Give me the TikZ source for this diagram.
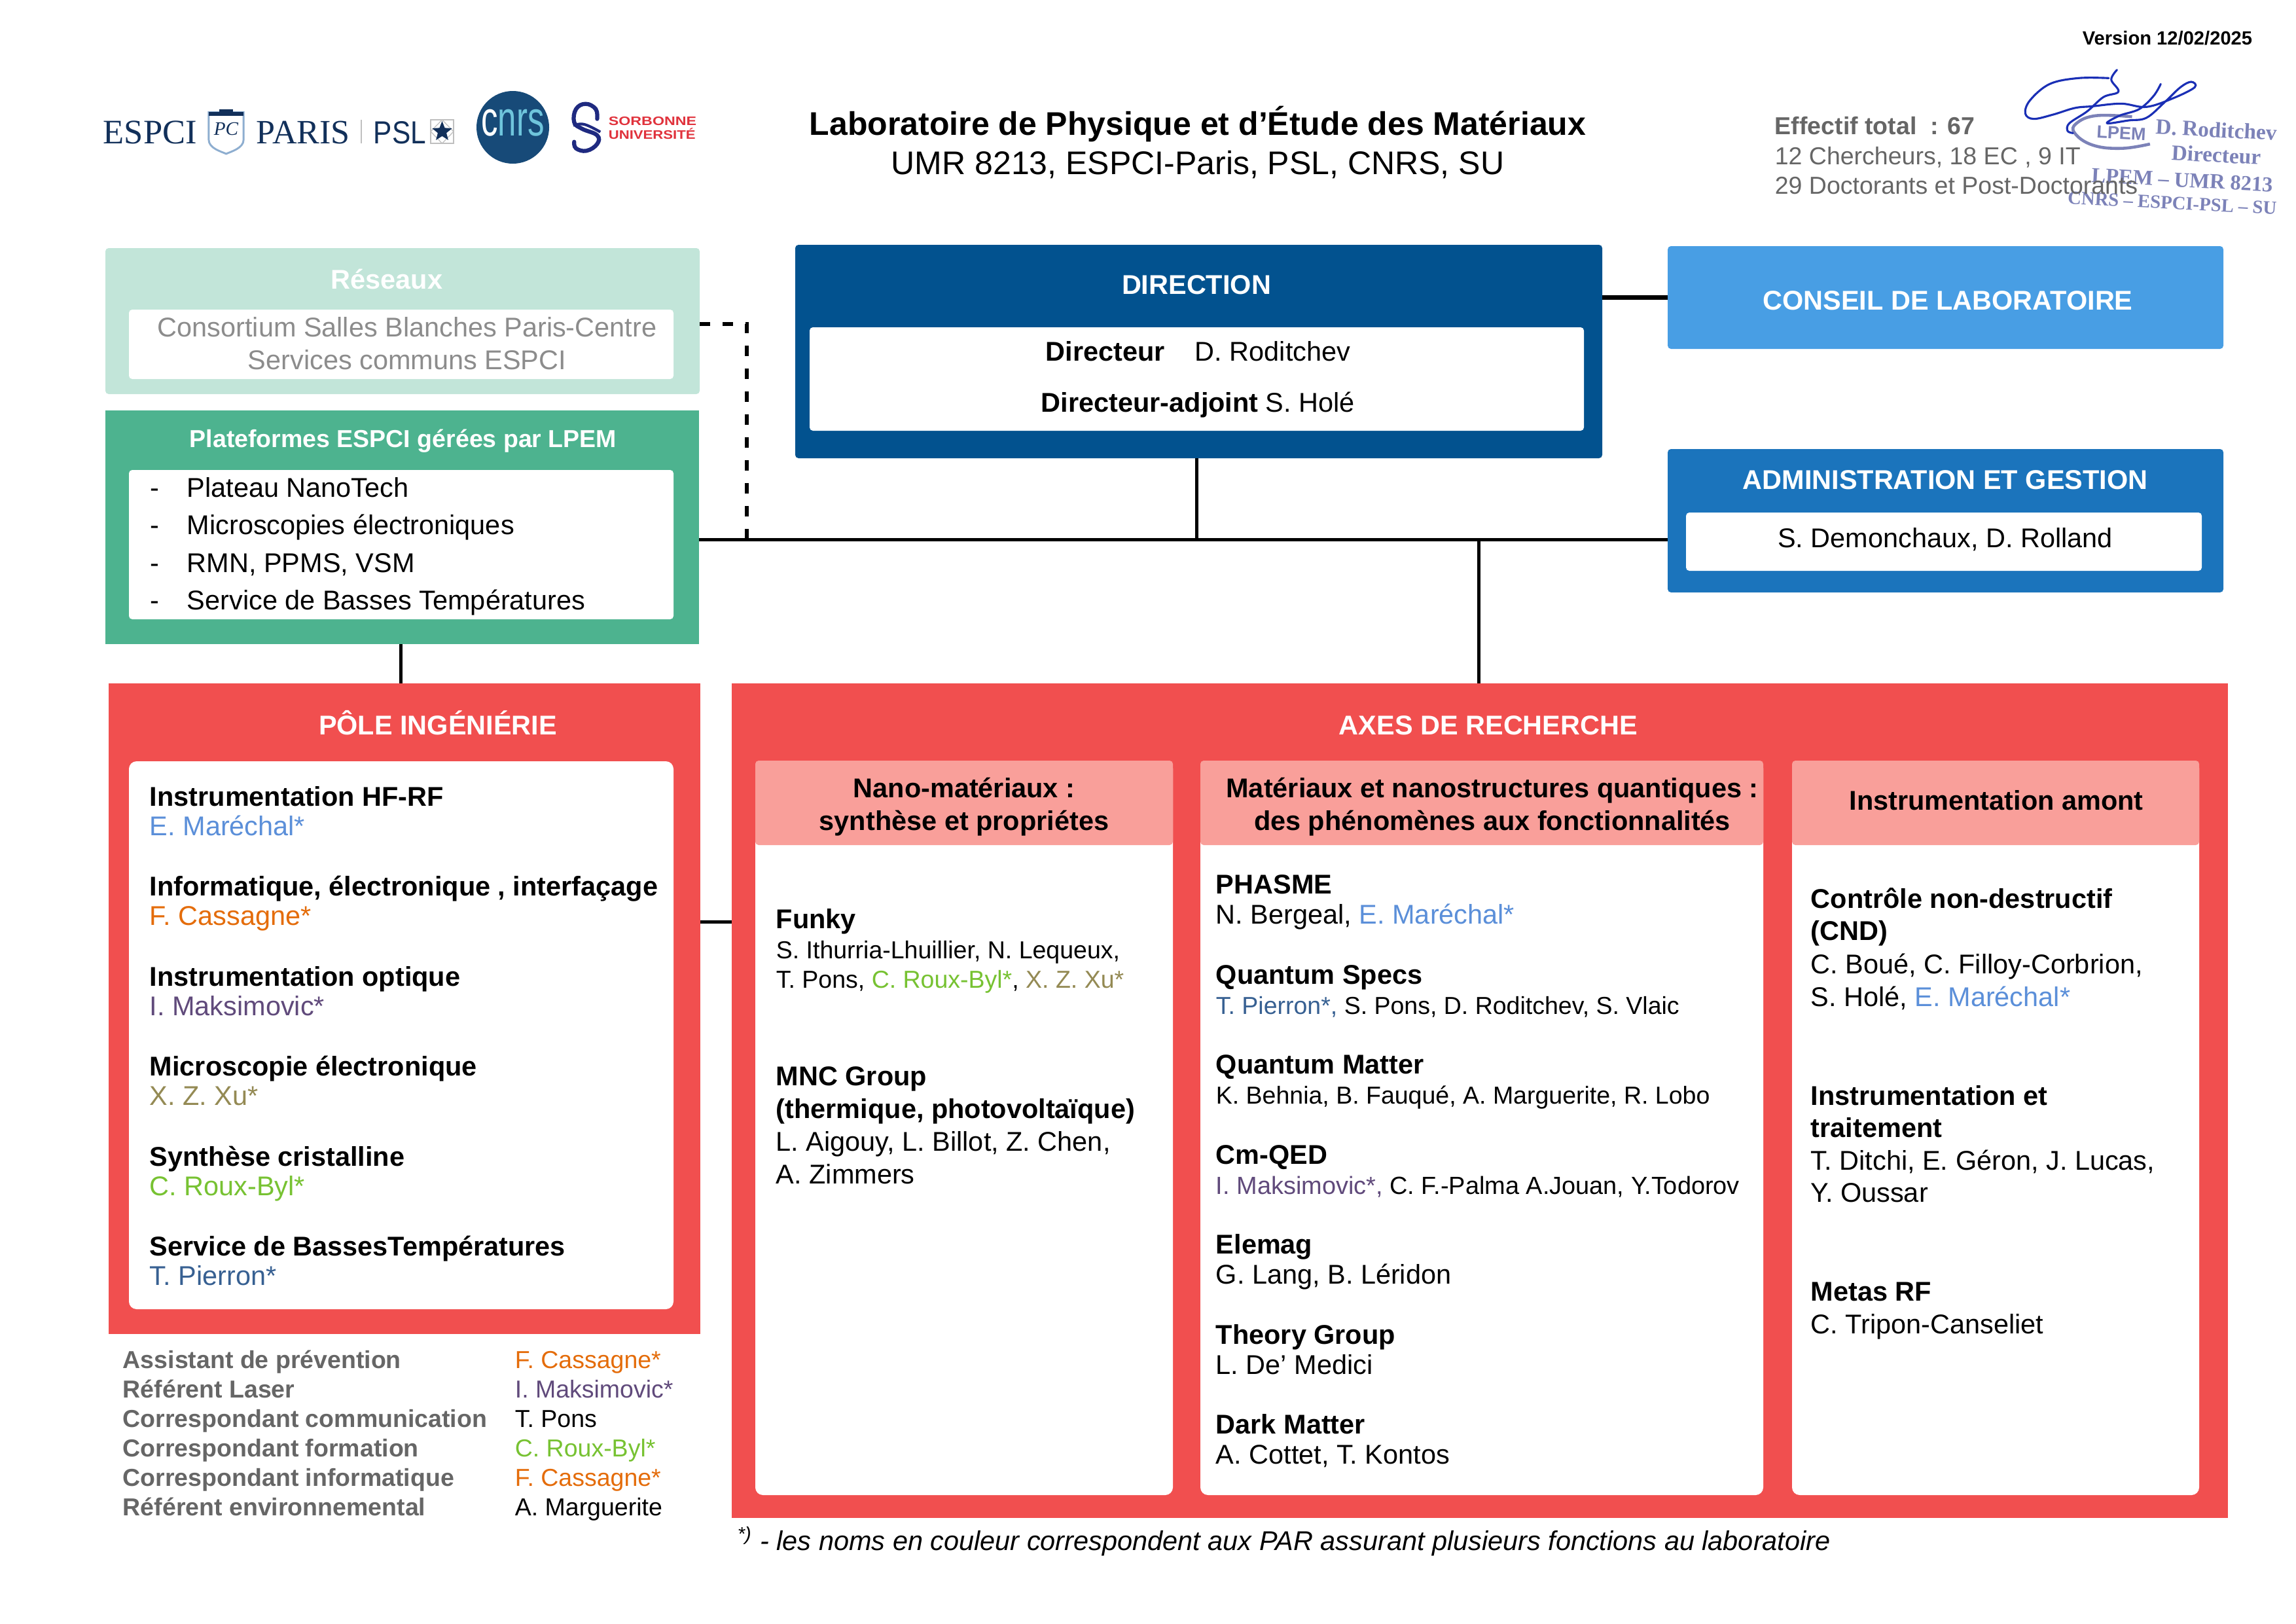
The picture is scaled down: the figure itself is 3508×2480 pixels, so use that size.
\documentclass[tikz,border=0pt]{standalone}
\usepackage{fontspec}
\setmainfont{Liberation Sans}
\newfontfamily\stampfont{Liberation Serif}
\usetikzlibrary{positioning,shapes.geometric}

\def\u{0.24pt}
\definecolor{reseauxbg}{HTML}{C2E5D9}
\definecolor{platbg}{HTML}{4DB38F}
\definecolor{dirbg}{HTML}{02528F}
\definecolor{conseilbg}{HTML}{489EE4}
\definecolor{adminbg}{HTML}{1B74BC}
\definecolor{redbg}{HTML}{F14F4F}
\definecolor{pinkbg}{HTML}{F99F9A}
\definecolor{greytext}{HTML}{666666}
\definecolor{softgrey}{HTML}{8C8C8C}
\definecolor{marechal}{HTML}{5B8FD9}
\definecolor{cassagne}{HTML}{E46C0A}
\definecolor{maksimovic}{HTML}{604A7B}
\definecolor{xucol}{HTML}{948A54}
\definecolor{rouxbyl}{HTML}{77C232}
\definecolor{pierron}{HTML}{376092}
\definecolor{navylogo}{HTML}{12305A}
\definecolor{cnrsbg}{HTML}{174A78}
\definecolor{cnrslight}{HTML}{6FC5DC}
\definecolor{sorbonnered}{HTML}{E0323C}
\definecolor{sorbonneblue}{HTML}{1F2A80}
\definecolor{signblue}{HTML}{1A2FB5}
\definecolor{stampblue}{HTML}{7C82B8}
\definecolor{shieldline}{HTML}{8EAED0}

\tikzstyle{boxsize} = [minimum width=#1*\u]
\tikzstyle{box} = [
    rectangle,                 % Shape
    anchor=north west,
    inner sep=0pt,
    outer sep=0pt
]
\tikzstyle{softbox} = [box, rounded corners=1.2pt]
\tikzstyle{whitebox} = [box, fill=white, rounded corners=1.2pt]
\tikzstyle{bodybox} = [box, fill=white, rounded corners=2.8pt]
\tikzstyle{link} = [line width=1.2pt, black]
\tikzstyle{thicklink} = [line width=1.6pt, black]
\tikzstyle{dashlink} = [line width=1.3pt, black, dash pattern=on 3.8pt off 4.6pt]
\tikzstyle{txt} = [anchor=base west, inner sep=0pt, yshift=-0.36pt, font=\fontsize{9.95}{12}\selectfont]
\tikzstyle{smalltxt} = [txt, font=\fontsize{9}{12}\selectfont]
\tikzstyle{headtxt} = [txt, font=\fontsize{9.95}{12}\selectfont\bfseries]
\tikzstyle{smallhead} = [txt, font=\fontsize{9}{12}\selectfont\bfseries]
\tikzstyle{midtxt} = [txt, anchor=base]
\tikzstyle{midhead} = [headtxt, anchor=base]
\tikzstyle{boxtitle} = [headtxt, anchor=base, text=white]
\tikzstyle{sign} = [signblue, line width=0.75pt, line cap=round, line join=round]
\tikzstyle{stamptxt} = [inner sep=0pt, rotate=-3, text=stampblue, font=\stampfont\bfseries\fontsize{8}{10}\selectfont]

\begin{document}
\begin{tikzpicture}[x=\u, y=-\u]
	\useasboundingbox (0,0) rectangle (3508,2480);

	% Logos
	\node[txt, text=navylogo, font=\stampfont\fontsize{12.6}{14}\selectfont] (espci) at (157,218) {ESPCI};
	\node[txt, text=navylogo, font=\stampfont\fontsize{12.5}{14}\selectfont] (paris) at (391,218) {PARIS};
	\node[txt, text=navylogo, font=\fontsize{11.7}{14}\selectfont] (psl) at (570,218) {\scalebox{.87}[1]{PSL}};
	\draw[black!25, line width=0.3pt] (552,183) -- (552,219);
	\begin{scope}[shift={(100,0)}, x=0.16836pt, y=-0.08pt]
		\draw[fill=white, draw=shieldline, line width=0.7pt] (312,515) -- (388,515) -- (388,640) .. controls (388,680) and (360,695) .. (350,705) .. controls (340,695) and (312,680) .. (312,640) -- cycle;
		\fill[navylogo] (312,512) -- (388,512) -- (388,530) -- (312,530) -- cycle;
		\fill[navylogo] (335,512) -- (335,500) -- (365,500) -- (365,512) -- cycle;
		\node[inner sep=0pt, text=navylogo, font=\stampfont\itshape\fontsize{7}{8}\selectfont] (shieldtxt) at (350,590) {PC};
		% Sorbonne S
		\draw[sorbonneblue, line width=1.5pt, line cap=round] plot[smooth, tension=.7] coordinates {(1158,545) (1155,500) (1133,476) (1112,500) (1108,560) (1125,590) (1158,620) (1158,660) (1135,691) (1112,680) (1108,650)};
		\draw[sorbonneblue, line width=1pt] plot[smooth, tension=.7] coordinates {(1106,575) (1130,570) (1165,605)};
	\end{scope}
	\draw[black!25, line width=0.3pt] (658,183) rectangle (693,219);
	\draw[black!25, line width=0.3pt] (675.5,183) -- (693,201) -- (675.5,219) -- (658,201) -- cycle;
	\node[star, star points=5, star point ratio=2.3, fill=navylogo, inner sep=0pt, minimum size=32*\u] (pslstar) at (675.5,201) {};
	\node[ellipse, fill=cnrsbg, inner sep=0pt, minimum width=111*\u, minimum height=111*\u] (cnrslogo) at (783.5,194.5) {};
	\node[anchor=base, inner sep=0pt, font=\fontsize{18}{20}\selectfont] (cnrstxt) at (783.5,207) {\scalebox{.68}[1]{\textcolor{white}{c}\textcolor{cnrslight}{nrs}}};
	\node[txt, text=sorbonnered, font=\fontsize{4.5}{5}\selectfont\bfseries] (sorb) at (929,190) {\scalebox{1.24}[1]{SORBONNE}};
	\node[txt, text=sorbonnered, font=\fontsize{4.5}{5}\selectfont\bfseries] (univ) at (929,211) {\scalebox{1.18}[1]{UNIVERSITÉ}};

	% Signature et tampon
	\begin{scope}[shift={(2650,0)}, x=0.131352pt, y=-0.08pt]
		\draw[stampblue, line width=1.1pt] plot[smooth, tension=.7] coordinates {(1110,535) (1010,530) (955,565) (950,610) (1000,665) (1080,680) (1160,660)};
		\node[stamptxt, font=\fontsize{6.5}{8}\selectfont\bfseries] (stamplpem) at (1080,610) {LPEM};
		\node[stamptxt] (stampname) at (1345,595) {D. Roditchev};
		\node[stamptxt] (stamprole) at (1345,710) {Directeur};
		\node[stamptxt, font=\stampfont\bfseries\fontsize{7.8}{10}\selectfont] (stampumr) at (1250,825) {LPEM – UMR 8213};
		\node[stamptxt, font=\stampfont\bfseries\fontsize{6.9}{10}\selectfont] (stamptut) at (1222,930) {CNRS – ESPCI-PSL – SU};
		\draw[sign] plot[smooth, tension=.6] coordinates {(1045,358) (960,358) (880,385) (825,460) (812,520) (835,545) (890,525) (950,495) (1000,487) (1080,475) (1150,490) (1225,450) (1285,400) (1275,375) (1245,400) (1200,470) (1150,540) (1100,552) (1040,565) (1075,530) (1130,500) (1170,440) (1190,385)};
		\draw[sign] plot[smooth, tension=.6] coordinates {(1068,320) (1052,365) (1072,420) (1030,445) (985,510) (935,565) (930,600) (945,610)};
	\end{scope}

	% Titre
	\node[midhead, font=\fontsize{12}{14}\selectfont\bfseries] (title) at (1830,204.5) {Laboratoire de Physique et d’Étude des Matériaux};
	\node[midtxt, font=\fontsize{12}{14}\selectfont] (subtitle) at (1830,264.5) {UMR 8213, ESPCI-Paris, PSL, CNRS, SU};
	\node[smallhead, anchor=base east, font=\fontsize{7}{8}\selectfont\bfseries] (version) at (3442,67) {Version 12/02/2025};
	\node[smallhead, text=greytext] (effectif) at (2711,204) {Effectif total~~: 67};
	\node[smalltxt, text=greytext] (effectifa) at (2711,250) {12 Chercheurs, 18 EC , 9 IT};
	\node[smalltxt, text=greytext] (effectifb) at (2711,295) {29 Doctorants et Post-Doctorants};

	% Colonne de gauche
	\node[softbox, fill=reseauxbg, boxsize=908, minimum height=223*\u] (reseaux) at (161,379) {};
	\node[whitebox, boxsize=832, minimum height=106*\u, below right=94*\u and 36*\u of reseaux.north west] (reseauxin) {};
	\node[boxtitle] (reseauxtitle) at (591,440) {Réseaux};
	\node[midtxt, text=softgrey] (consortium) at (622,513) {Consortium Salles Blanches Paris-Centre};
	\node[midtxt, text=softgrey] (services) at (622,563) {Services communs ESPCI};

	\node[box, fill=platbg, boxsize=907, minimum height=357*\u] (plat) at (161,627) {};
	\node[whitebox, boxsize=832, minimum height=228*\u, below right=91*\u and 36*\u of plat.north west] (platin) {};
	\node[boxtitle, font=\fontsize{9}{12}\selectfont\bfseries] (plattitle) at (616,682) {Plateformes ESPCI gérées par LPEM};
	\foreach \item [count=\i from 0] in {Plateau NanoTech, Microscopies électroniques, {RMN, PPMS, VSM}, Service de Basses Températures} {
		\node[txt] (dash\i) at (229,{758+57.4*\i}) {-};
		\node[txt] (platitem\i) at (285,{758+57.4*\i}) {\item};
	}

	% Direction et conseils
	\node[softbox, fill=dirbg, boxsize=1233, minimum height=326*\u] (direction) at (1215,374) {};
	\node[whitebox, boxsize=1183, minimum height=158*\u, below right=126*\u and 22*\u of direction.north west] (directionin) {};
	\node[boxtitle] (directiontitle) at (1828,448) {DIRECTION};
	\node[headtxt] (dirlabel) at (1597,550) {Directeur};
	\node[txt] (dirname) at (1825,550) {D. Roditchev};
	\node[headtxt] (adjlabel) at (1590,628) {Directeur-adjoint};
	\node[txt] (adjname) at (1933,628) {S. Holé};

	\node[softbox, fill=conseilbg, boxsize=849, minimum height=157*\u] (conseil) at (2548,376) {};
	\node[boxtitle] (conseiltitle) at (2976,472) {CONSEIL DE LABORATOIRE};

	\node[softbox, fill=adminbg, boxsize=849, minimum height=219*\u] (admin) at (2548,686) {};
	\node[whitebox, boxsize=788, minimum height=89*\u, below right=97*\u and 28*\u of admin.north west] (adminin) {};
	\node[boxtitle] (admintitle) at (2972,746) {ADMINISTRATION ET GESTION};
	\node[midtxt] (adminnames) at (2972,835) {S. Demonchaux, D. Rolland};

	% Pole ingenierie
	\node[box, fill=redbg, boxsize=904, minimum height=994*\u] (pole) at (166,1044) {};
	\node[bodybox, boxsize=832, minimum height=837*\u, below right=119*\u and 31*\u of pole.north west] (polein) {};
	\node[boxtitle] (poletitle) at (669,1121) {PÔLE INGÉNIÉRIE};
	\foreach \head/\who/\col [count=\i from 0] in {
		Instrumentation HF-RF/E. Maréchal*/marechal,
		{Informatique, électronique , interfaçage}/F. Cassagne*/cassagne,
		Instrumentation optique/I. Maksimovic*/maksimovic,
		Microscopie électronique/X. Z. Xu*/xucol,
		Synthèse cristalline/C. Roux-Byl*/rouxbyl,
		Service de BassesTempératures/T. Pierron*/pierron} {
		\node[headtxt] (polehead\i) at (228,{1230+137.4*\i}) {\head};
		\node[txt, text=\col] (polewho\i) at (228,{1275+137.4*\i}) {\who};
	}

	% Fonctions
	\foreach \role/\who/\col [count=\i from 0] in {
		Assistant de prévention/F. Cassagne*/cassagne,
		Référent Laser/I. Maksimovic*/maksimovic,
		Correspondant communication/T. Pons/black,
		Correspondant formation/C. Roux-Byl*/rouxbyl,
		Correspondant informatique/F. Cassagne*/cassagne,
		Référent environnemental/A. Marguerite/black} {
		\node[smallhead, text=greytext] (role\i) at (187,{2089+45*\i}) {\role};
		\node[smalltxt, text=\col] (rolewho\i) at (786,{2089+45*\i}) {\who};
	}

	% Axes de recherche
	\node[box, fill=redbg, boxsize=2286, minimum height=1275*\u] (axes) at (1118,1044) {};
	\node[boxtitle] (axestitle) at (2274,1121) {AXES DE RECHERCHE};

	\node[bodybox, boxsize=638, minimum height=1122*\u] (nano) at (1154,1162) {};
	\node[softbox, fill=pinkbg, boxsize=638, minimum height=129*\u] (nanohead) at (1154,1162) {};
	\node[midhead] (nanoa) at (1473,1217) {Nano-matériaux :};
	\node[midhead] (nanob) at (1473,1267) {synthèse et propriétes};
	\node[headtxt] (funky) at (1185,1417) {Funky};
	\node[smalltxt] (funkya) at (1185,1463) {S. Ithurria-Lhuillier, N. Lequeux,};
	\node[smalltxt] (funkyb) at (1185,1508) {T. Pons, \textcolor{rouxbyl}{C. Roux-Byl*}, \textcolor{xucol}{X. Z. Xu*}};
	\node[headtxt] (mnc) at (1185,1657) {MNC Group};
	\node[headtxt] (mnca) at (1185,1707) {(thermique, photovoltaïque)};
	\node[txt] (mncb) at (1185,1757) {L. Aigouy, L. Billot, Z. Chen,};
	\node[txt] (mncc) at (1185,1807) {A. Zimmers};

	\node[bodybox, boxsize=860, minimum height=1122*\u] (quant) at (1834,1162) {};
	\node[softbox, fill=pinkbg, boxsize=860, minimum height=129*\u] (quanthead) at (1834,1162) {};
	\node[midhead] (quanta) at (2280,1217) {Matériaux et nanostructures quantiques :};
	\node[midhead] (quantb) at (2280,1267) {des phénomènes aux fonctionnalités};
	\foreach \head/\who/\sz [count=\i from 0] in {
		PHASME/{N. Bergeal, \textcolor{marechal}{E. Maréchal*}}/9.95,
		Quantum Specs/{\textcolor{pierron}{T. Pierron*,} S. Pons, D. Roditchev, S. Vlaic}/9,
		Quantum Matter/{K. Behnia, B. Fauqué, A. Marguerite, R. Lobo}/9,
		Cm-QED/{\textcolor{maksimovic}{I. Maksimovic*,} C. F.-Palma A.Jouan, Y.Todorov}/9.1,
		Elemag/{G. Lang, B. Léridon}/9.95,
		Theory Group/L. De’ Medici/9.95,
		Dark Matter/{A. Cottet, T. Kontos}/9.95} {
		\node[headtxt] (quanthead\i) at (1857,{1364+137.5*\i}) {\head};
		\node[txt, font=\fontsize{\sz}{12}\selectfont] (quantwho\i) at (1857,{1410+137.5*\i}) {\who};
	}

	\node[bodybox, boxsize=622, minimum height=1122*\u] (instr) at (2738,1162) {};
	\node[softbox, fill=pinkbg, boxsize=622, minimum height=129*\u] (instrhead) at (2738,1162) {};
	\node[midhead] (instrtitle) at (3050,1236) {Instrumentation amont};
	\node[headtxt] (cnd) at (2766,1386) {Contrôle non-destructif};
	\node[headtxt] (cnda) at (2766,1435) {(CND)};
	\node[txt] (cndb) at (2766,1486) {C. Boué, C. Filloy-Corbrion,};
	\node[txt] (cndc) at (2766,1536) {S. Holé, \textcolor{marechal}{E. Maréchal*}};
	\node[headtxt] (trait) at (2766,1687) {Instrumentation et};
	\node[headtxt] (traita) at (2766,1736) {traitement};
	\node[txt] (traitb) at (2766,1786) {T. Ditchi, E. Géron, J. Lucas,};
	\node[txt] (traitc) at (2766,1835) {Y. Oussar};
	\node[headtxt] (metas) at (2766,1986) {Metas RF};
	\node[txt] (metasa) at (2766,2036) {C. Tripon-Canseliet};

	\node[smalltxt, font=\fontsize{9.95}{12}\selectfont\itshape] (footnote) at (1126,2367) {\textsuperscript{*)} - les noms en couleur correspondent aux PAR assurant plusieurs fonctions au laboratoire};

	% Connexions
	\coordinate (bus) at (1141,824);
	\coordinate (netcorner) at (1141,495);
	\coordinate (dirdrop) at (1828,824);
	\coordinate (axesdrop) at (2259,824);
	\coordinate (platdrop) at (612,984);
	\coordinate (polelink) at (1070,1408);
	\draw[link] (plat.east |- bus) -- (admin.west |- bus);
	\draw[link] (dirdrop |- direction.south) -- (dirdrop);
	\draw[link] (axesdrop) -- (axesdrop |- axes.north);
	\draw[link] (platdrop) -- (platdrop |- pole.north);
	\draw[thicklink] (conseil.west) -- (conseil.west -| direction.east);
	\draw[link] (pole.east |- polelink) -- (axes.west |- polelink);
	\draw[dashlink] (netcorner -| reseaux.east) -- (netcorner) -- (netcorner |- bus);
\end{tikzpicture}
\end{document}
